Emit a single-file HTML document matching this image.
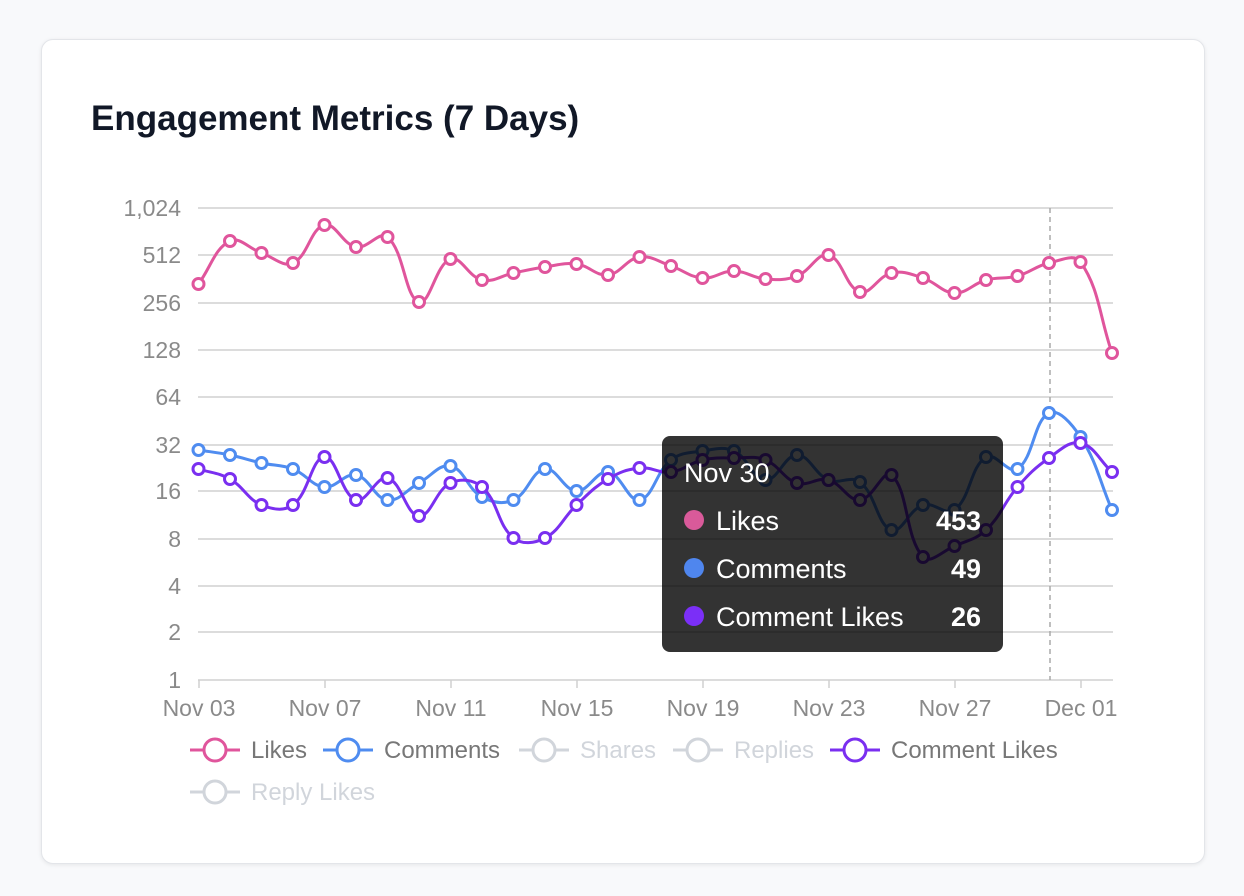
<!DOCTYPE html>
<html><head><meta charset="utf-8">
<style>
html,body{margin:0;padding:0;width:1244px;height:896px;background:#f8f9fb;overflow:hidden;font-family:"Liberation Sans",Arial,sans-serif;}
.card{position:absolute;left:41px;top:39px;width:1162px;height:823px;background:#fff;border:1px solid #e3e5e9;border-radius:12px;box-shadow:0 1px 4px rgba(0,0,0,0.08);}
svg{position:absolute;left:0;top:0;}
</style></head><body>
<div class="card"></div>
<svg id="s" width="1244" height="896" xmlns="http://www.w3.org/2000/svg" font-family="Liberation Sans, Arial, sans-serif"></svg>
<script>
var s=document.getElementById('s');var h='';
h+='<text x="91" y="130" font-size="35" font-weight="bold" fill="#111827">Engagement Metrics (7 Days)</text>';
var gy=[208,255,303,350,397,445,491,539,586,632,680],gl=['1,024','512','256','128','64','32','16','8','4','2','1'];
for(var i=0;i<gy.length;i++){h+='<line x1="198" x2="1113" y1="'+gy[i]+'" y2="'+gy[i]+'" stroke="#d0d0d0" stroke-width="1.5"/>';
h+='<text x="181" y="'+(gy[i]+8)+'" font-size="23" fill="#8a8a8a" text-anchor="end">'+gl[i]+'</text>';}
var xl=['Nov 03','Nov 07','Nov 11','Nov 15','Nov 19','Nov 23','Nov 27','Dec 01'];
for(var i=0;i<8;i++){var x=199+i*126;h+='<line x1="'+x+'" x2="'+x+'" y1="680" y2="688" stroke="#d0d0d0" stroke-width="1.5"/>';
h+='<text x="'+x+'" y="716" font-size="23" fill="#8a8a8a" text-anchor="middle">'+xl[i]+'</text>';}
h+='<line x1="1050" x2="1050" y1="208" y2="680" stroke="#aaa" stroke-width="1.5" stroke-dasharray="5,4"/>';
var likes=[284,241,253,263,225,247,237,302,259,280,273,267,264,275,257,266,278,271,279,276,255,292,273,278,293,280,276,263,262,353];
var com=[450,455,463,469,487,475,500,483,466,497,500,469,491,472,500,460,451,451,480,455,480,482,530,505,510,457,469,413,437,510];
var cl=[469,479,505,505,457,500,478,516,483,487,538,538,505,479,468,472,460,458,460,483,480,500,475,557,546,530,487,458,443,472];
function path(ys,col){var p=[];for(var i=0;i<ys.length;i++)p.push([198.5+i*31.5,ys[i]]);
var t=0.4,cps=[];for(var i=0;i<p.length;i++){var pr=p[Math.max(0,i-1)],c=p[i],n=p[Math.min(p.length-1,i+1)];
var d01=Math.hypot(c[0]-pr[0],c[1]-pr[1]),d12=Math.hypot(n[0]-c[0],n[1]-c[1]);var s01=d01/(d01+d12)||0,s12=d12/(d01+d12)||0;
var fa=t*s01,fb=t*s12;cps.push([[c[0]-fa*(n[0]-pr[0]),c[1]-fa*(n[1]-pr[1])],[c[0]+fb*(n[0]-pr[0]),c[1]+fb*(n[1]-pr[1])]]);}
var d='M'+p[0][0]+' '+p[0][1];for(var i=1;i<p.length;i++){var a=cps[i-1][1],b=cps[i][0];d+=' C'+a[0].toFixed(1)+' '+a[1].toFixed(1)+' '+b[0].toFixed(1)+' '+b[1].toFixed(1)+' '+p[i][0]+' '+p[i][1];}
var o='<path d="'+d+'" fill="none" stroke="'+col+'" stroke-width="3"/>';
for(var i=0;i<p.length;i++)o+='<circle cx="'+p[i][0]+'" cy="'+p[i][1]+'" r="5.5" fill="#fff" stroke="'+col+'" stroke-width="3"/>';return o;}
h+=path(likes,'#e0559c');h+=path(com,'#4f8cf0');h+=path(cl,'#7a2ff0');
h+='<rect x="662" y="436" width="341" height="216" rx="8" fill="rgba(0,0,0,0.8)"/>';
h+='<text x="684" y="482" font-size="27" fill="#fff">Nov 30</text>';
var tr=[['Likes','453','#d95a9a',520],['Comments','49','#4f86ee',568],['Comment Likes','26','#7b2ff7',616]];
for(var i=0;i<3;i++){h+='<circle cx="694" cy="'+tr[i][3]+'" r="10" fill="'+tr[i][2]+'"/>';
h+='<text x="716" y="'+(tr[i][3]+10)+'" font-size="27" fill="#fff">'+tr[i][0]+'</text>';
h+='<text x="981" y="'+(tr[i][3]+10)+'" font-size="27" font-weight="bold" fill="#fff" text-anchor="end">'+tr[i][1]+'</text>';}
var lg=[['Likes',190,750,'#e0559c','#777'],['Comments',323,750,'#4f8cf0','#777'],['Shares',519,750,'#d1d5db','#d1d5db'],['Replies',673,750,'#d1d5db','#d1d5db'],['Comment Likes',830,750,'#7a2ff0','#777'],['Reply Likes',190,792,'#d1d5db','#d1d5db']];
for(var i=0;i<lg.length;i++){var L=lg[i];h+='<line x1="'+L[1]+'" x2="'+(L[1]+50)+'" y1="'+L[2]+'" y2="'+L[2]+'" stroke="'+L[3]+'" stroke-width="3"/>';
h+='<circle cx="'+(L[1]+25)+'" cy="'+L[2]+'" r="11" fill="#fff" stroke="'+L[3]+'" stroke-width="3"/>';
h+='<text x="'+(L[1]+61)+'" y="'+(L[2]+8)+'" font-size="24" fill="'+L[4]+'">'+L[0]+'</text>';}
s.innerHTML=h;
</script>
</body></html>
